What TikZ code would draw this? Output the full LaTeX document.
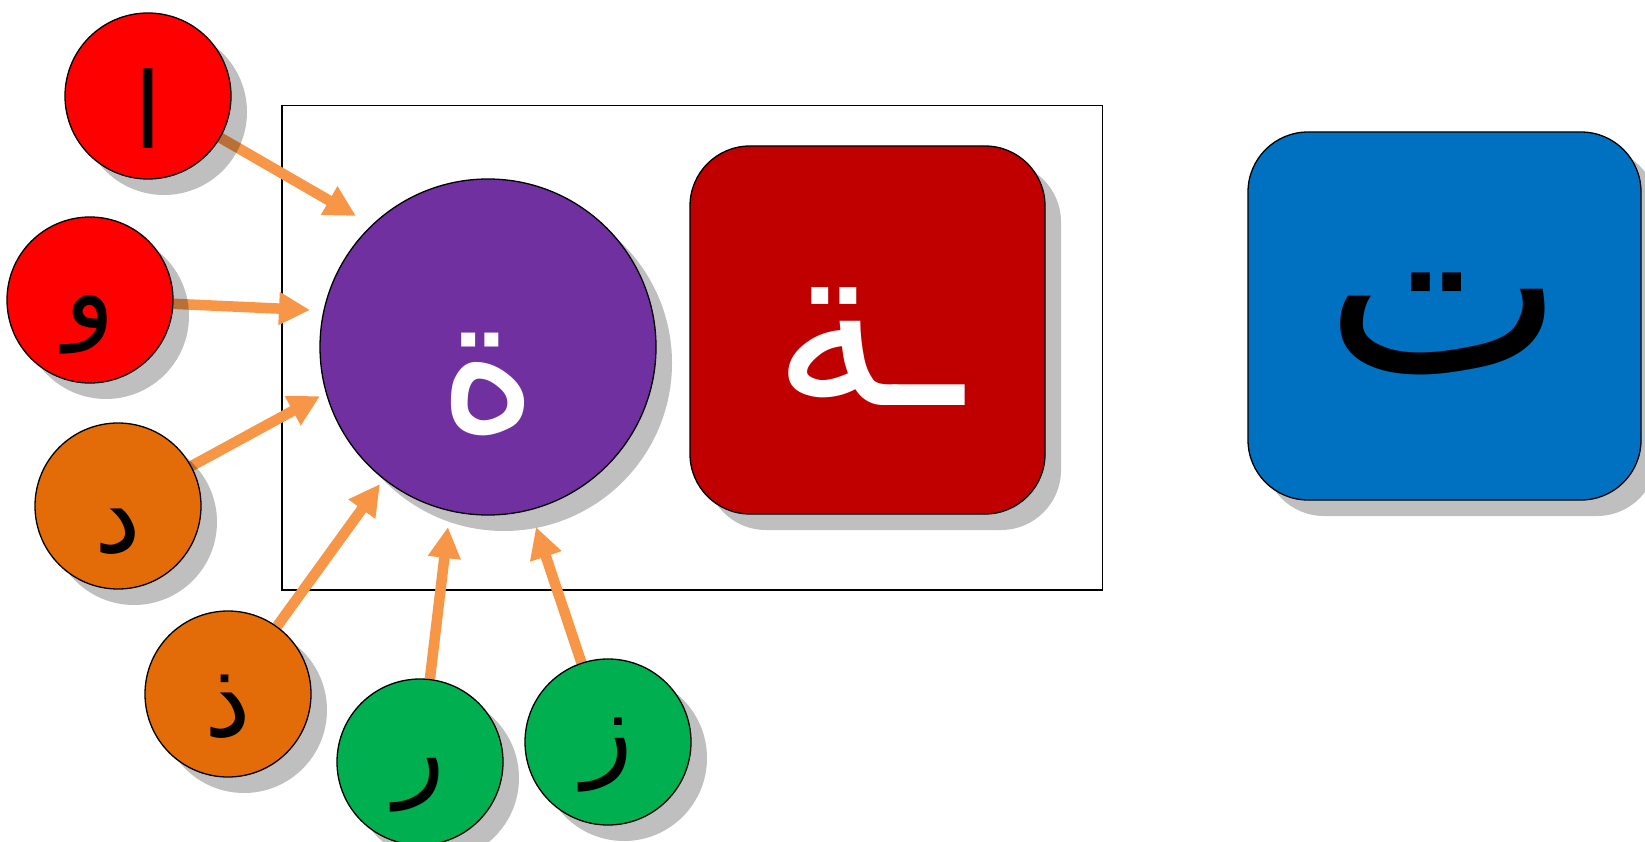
\documentclass[tikz,border=0pt]{standalone}
\usepackage{fontspec}
\usetikzlibrary{shadows,arrows.meta}
\newfontfamily\arabicfont[Script=Arabic]{DejaVu Sans}
\TeXXeTstate=1
\newcommand\lowertext[2]{\raisebox{-#1}[\height][\depth]{\beginR #2\endR}}
\definecolor{cred}{HTML}{FF0000}
\definecolor{corange}{HTML}{E36C09}
\definecolor{cgreen}{HTML}{00B050}
\definecolor{cpurple}{HTML}{7030A0}
\definecolor{cdarkred}{HTML}{C00000}
\definecolor{cblue}{HTML}{0070C0}
\definecolor{carrow}{HTML}{F79646}
\pgfdeclarelayer{bg}
\pgfsetlayers{bg,main}
\tikzset{
  shad/.style={drop shadow={shadow xshift=16pt, shadow yshift=-16pt, fill=black, opacity=0.25}},
  smallcirc/.style={circle, draw=black, line width=1.3pt, minimum size=166pt, inner sep=0pt, shad,
     font=\arabicfont\fontsize{105}{110}\selectfont},
  bigcirc/.style={circle, draw=black, line width=1.3pt, minimum size=336pt, inner sep=0pt, shad, fill=cpurple,
     text=white, text height=166pt, text depth=0pt, font=\arabicfont\fontsize{190}{200}\selectfont},
  roundbox/.style={rectangle, rounded corners=60pt, draw=black, line width=1.3pt, minimum height=368pt, inner sep=0pt, shad},
  conn/.style={draw=carrow, line width=10.5pt, -{Triangle[length=31pt, width=31pt]}},
  frame/.style={draw=black, line width=1.3pt}
}
\begin{document}
\begin{tikzpicture}[x=1pt, y=-1pt]
\useasboundingbox (0,0) rectangle (1645,842);
% nodes
\node[smallcirc, fill=cred] (alef) at (148,96) {\lowertext{13pt}{ا}};
\node[smallcirc, fill=cred] (waw) at (90,300) {\lowertext{25pt}{و}};
\node[smallcirc, fill=corange] (dal) at (118,506) {\lowertext{26pt}{د}};
\node[smallcirc, fill=corange] (thal) at (228,694) {\lowertext{13pt}{ذ}};
\node[smallcirc, fill=cgreen] (ra) at (420,762) {\lowertext{23pt}{ر}};
\node[smallcirc, fill=cgreen] (zay) at (608,742) {\lowertext{13pt}{ز}};
\node[bigcirc] (taam) at (488,347) {\beginR ة\endR};
\node[roundbox, minimum width=355pt, fill=cdarkred, text=white, text height=150pt, text depth=0pt,
      font=\arabicfont\fontsize{230}{240}\selectfont] (final) at (867.5,330) {\beginR ـة\endR};
\node[roundbox, minimum width=393pt, fill=cblue, text=black, text height=112pt, text depth=0pt,
      font=\arabicfont\fontsize{255}{265}\selectfont] (ta) at (1444.5,316) {\beginR ت\endR};
% arrow tips
\coordinate (tA) at (356,216);
\coordinate (tW) at (310,310);
\coordinate (tD) at (320,396);
\coordinate (tT) at (380,484);
\coordinate (tR) at (448,527);
\coordinate (tZ) at (536,527);
\coordinate (fr1) at (282,105.7);
\coordinate (fr2) at (1102.7,590);
\begin{pgfonlayer}{bg}
\draw[frame] (fr1) rectangle (fr2);
\draw[conn] (alef) -- (tA);
\draw[conn] (waw) -- (tW);
\draw[conn] (dal) -- (tD);
\draw[conn] (thal) -- (tT);
\draw[conn] (ra) -- (tR);
\draw[conn] (zay) -- (tZ);
\end{pgfonlayer}
\end{tikzpicture}
\end{document}
